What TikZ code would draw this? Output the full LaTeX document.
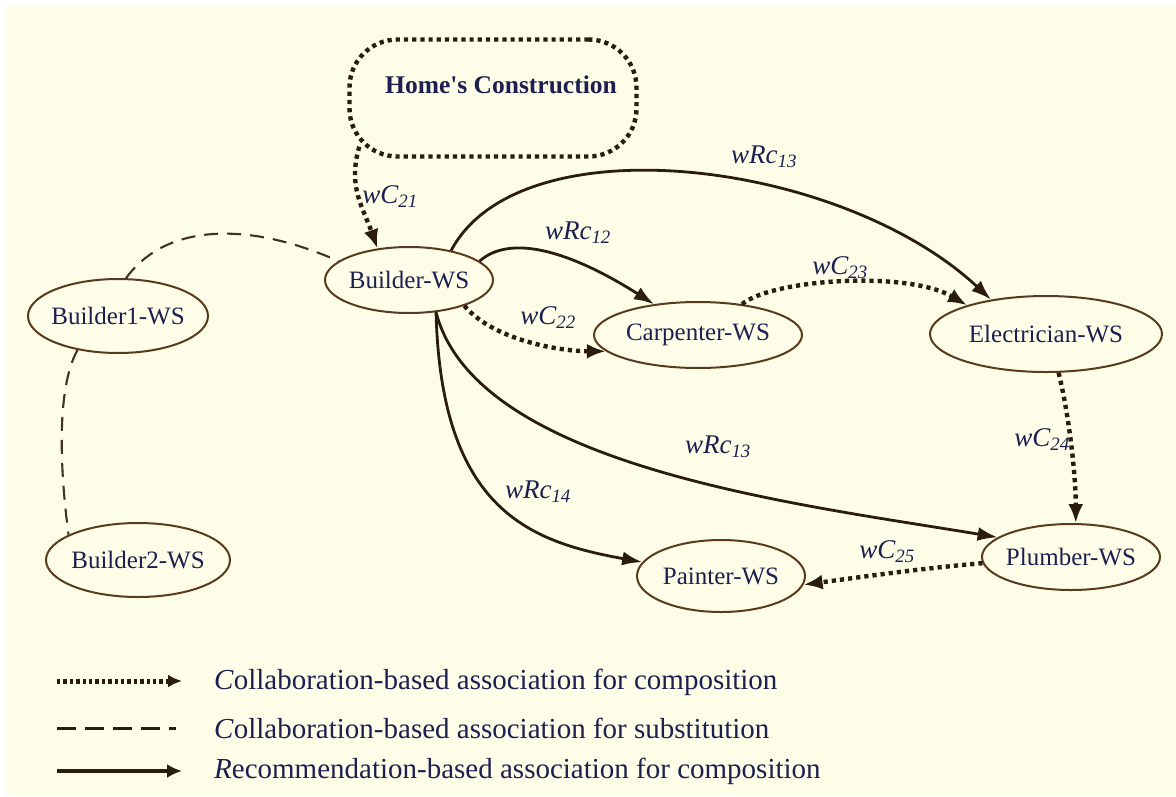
\documentclass[tikz,border=0pt]{standalone}
\usepackage{fontspec}
\setmainfont{Liberation Serif}
\usetikzlibrary{arrows.meta,calc,shapes.geometric}

\definecolor{paper}{HTML}{FEFDE8}
\definecolor{ink}{HTML}{2B1C10}
\definecolor{rim}{HTML}{5A3A1C}
\definecolor{txt}{HTML}{1C2050}

\begin{document}
\begin{tikzpicture}[x=1pt,y=-1pt,
  ws/.style 2 args={ellipse, draw=rim, line width=2pt, fill=paper,
    minimum width=#1, minimum height=#2, inner sep=0pt},
  wstxt/.style={text=txt, font=\fontsize{25}{28}\selectfont, inner sep=0pt},
  lab/.style={text=txt, font=\fontsize{27}{30}\selectfont\itshape, inner sep=1pt},
  legtxt/.style={text=txt, font=\fontsize{29}{32}\selectfont, inner sep=0pt, anchor=west},
  dotted edge/.style={draw=ink, line width=4.4pt, dash pattern=on 4.2pt off 4pt},
  collab/.style={dotted edge, -{Latex[length=19pt,width=15pt]}},
  recom/.style={draw=ink, line width=2.8pt, -{Latex[length=20pt,width=14pt]}},
  subst/.style={draw=ink!90!paper, line width=2.1pt, dash pattern=on 14pt off 9pt},
]
\useasboundingbox (0,0) rectangle (1176,796);
\fill[white] (0,0) rectangle (1176,796);
\fill[paper] (5,5) rectangle (1176,796);

% goal box
\node[rectangle, rounded corners=48pt, dotted edge, minimum width=287pt,
      minimum height=117pt, inner sep=0pt,
      label={[text=txt, font=\fontsize{25.5}{28}\selectfont\bfseries, xshift=8pt, yshift=13pt]center:Home\textquotesingle s Construction}]
      (home) at (493,98) {};

% services
\node[ws={168pt}{66pt}, label={[wstxt]center:Builder-WS}] (builder) at (409,280) {};
\node[ws={180pt}{74pt}, label={[wstxt]center:Builder1-WS}] (builder1) at (118,316) {};
\node[ws={184pt}{74pt}, label={[wstxt]center:Builder2-WS}] (builder2) at (138,560) {};
\node[ws={208pt}{66pt}, label={[wstxt]center:Carpenter-WS}] (carpenter) at (698,335) {};
\node[ws={232pt}{76pt}, label={[wstxt]center:Electrician-WS}] (electrician) at (1046,334) {};
\node[ws={178pt}{66pt}, label={[wstxt]center:Plumber-WS}] (plumber) at (1071,557) {};
\node[ws={168pt}{72pt}, label={[wstxt]center:Painter-WS}] (painter) at (721,576) {};

% substitution links
\draw[subst] (builder1.78) .. controls +(40,-55) and +(-90,-40) .. (builder.165);
\draw[subst] (builder1.220) .. controls +(-22,40) and +(-8,-60) .. (builder2.160);

% composition links
\coordinate (hs) at ($(home.south west)+(12,-12)$);
\draw[collab] (hs) .. controls +(-12,40) and +(-14,-40) .. (builder.135);
\draw[recom] (builder.15) .. controls +(40,-35) and +(-55,-35) .. (carpenter.145);
\draw[collab] (builder.-25) .. controls +(30,35) and +(-45,0) .. (carpenter.190);
\draw[recom] (builder.35) .. controls +(69,-130) and +(-150,-140) .. (electrician.148);
\draw[collab] (carpenter.35) .. controls +(30,-25) and +(-60,-35) .. (electrician.160);
\draw[recom] (builder.-50) .. controls +(40,155) and +(-198,-33) .. (plumber.165);
\draw[recom] (builder.-50) .. controls +(5,200) and +(-110,-20) .. (painter.170);
\draw[collab] (electrician.-72) .. controls +(10,40) and +(0,-50) .. (plumber.82);
\draw[collab] (plumber.184) .. controls +(-60,5) and +(60,-8) .. (painter.-6);

% link weights
\node[lab] (w21) at (390,197) {wC\textsubscript{21}};
\node[lab] (w12) at (578,233) {wRc\textsubscript{12}};
\node[lab] (w22) at (548,318) {wC\textsubscript{22}};
\node[lab] (w13a) at (764,157) {wRc\textsubscript{13}};
\node[lab] (w23) at (840,268) {wC\textsubscript{23}};
\node[lab] (w13b) at (718,447) {wRc\textsubscript{13}};
\node[lab] (w14) at (538,492) {wRc\textsubscript{14}};
\node[lab] (w24) at (1042,440) {wC\textsubscript{24}};
\node[lab] (w25) at (887,552) {wC\textsubscript{25}};

% key
\coordinate (k1s) at (57,681);  \coordinate (k1e) at (182,681);
\coordinate (k2s) at (57,728);  \coordinate (k2e) at (176,728);
\coordinate (k3s) at (57,771);  \coordinate (k3e) at (182,771);
\draw[dotted edge, line width=5pt, dash pattern=on 3.4pt off 3pt, -{Latex[length=14pt,width=13pt]}] (k1s) -- (k1e);
\draw[draw=ink, line width=3pt, dash pattern=on 19pt off 9pt] (k2s) -- (k2e);
\draw[draw=ink, line width=4.4pt, -{Latex[length=15pt,width=14pt]}] (k3s) -- (k3e);
\node[legtxt] (k1) at (214,682) {\textit{C}ollaboration-based association for composition};
\node[legtxt] (k2) at (214,728) {\textit{C}ollaboration-based association for substitution};
\node[legtxt] (k3) at (214,771) {\textit{R}ecommendation-based association for composition};
\end{tikzpicture}
\end{document}
